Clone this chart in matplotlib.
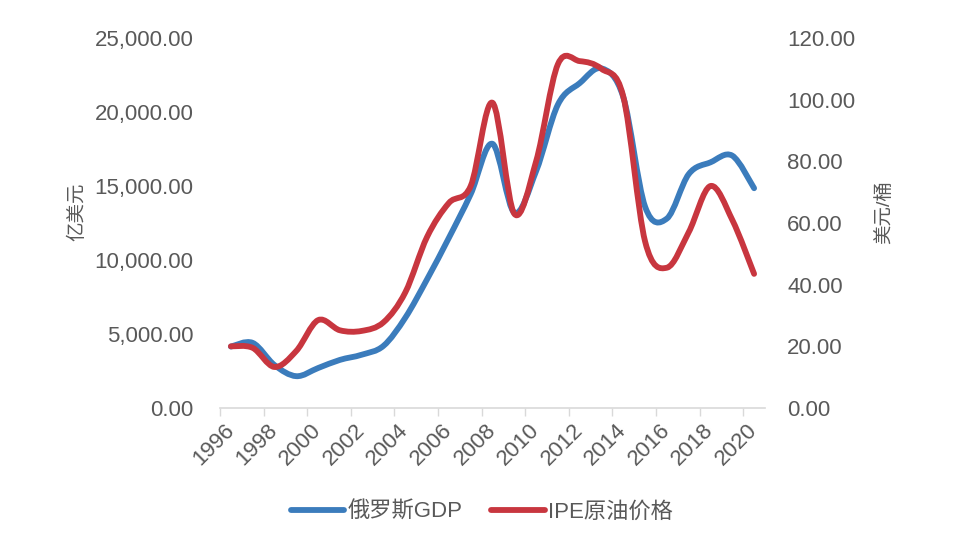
import matplotlib
matplotlib.use('Agg')
import matplotlib.pyplot as plt
import numpy as np
from matplotlib.path import Path
from matplotlib.patches import PathPatch
from matplotlib.lines import Line2D
from matplotlib.ticker import FuncFormatter, FixedLocator

plt.rcParams['font.family'] = ['Liberation Sans', 'Noto Sans CJK SC']

years = list(range(1996, 2021))
gdp = [4150, 4400, 2900, 2150, 2700, 3250, 3600, 4200, 6100, 8700, 11500, 14450, 17850,
       13200, 16000, 20500, 21950, 22950, 21000, 13600, 12800, 15800, 16600, 17050, 14850]
oil = [20.0, 19.5, 13.3, 18.5, 28.5, 25.2, 25.0, 27.8, 37.5, 55.5, 66.5, 72.0, 99.0,
       63.0, 80.0, 111.5, 112.5, 110.0, 101.0, 54.0, 45.5, 57.0, 72.0, 61.0, 43.5]
tick_years = list(range(1996, 2021, 2))
names = ['俄罗斯GDP', 'IPE原油价格']

blue = '#3b7cbc'
red = '#c8363f'
grey = '#595959'


def smooth_path(x, y):
    # Excel style smoothed line: cubic bezier through every point
    x = np.asarray(x, float)
    y = np.asarray(y, float)
    n = len(x)
    verts = [(x[0], y[0])]
    codes = [Path.MOVETO]
    for i in range(n - 1):
        p0 = np.array([x[max(i - 1, 0)], y[max(i - 1, 0)]])
        p1 = np.array([x[i], y[i]])
        p2 = np.array([x[i + 1], y[i + 1]])
        p3 = np.array([x[min(i + 2, n - 1)], y[min(i + 2, n - 1)]])
        c1 = p1 + (p2 - p0) / 6.0
        c2 = p2 - (p3 - p1) / 6.0
        verts += [tuple(c1), tuple(c2), tuple(p2)]
        codes += [Path.CURVE4] * 3
    return Path(verts, codes)


fig = plt.figure(figsize=(9.6, 5.45), dpi=100)
ax = fig.add_axes([220 / 960, 1 - 408 / 545, 545 / 960, 370 / 545])
ax2 = ax.twinx()

ax.add_patch(PathPatch(smooth_path(years, gdp), facecolor='none', edgecolor=blue,
                       linewidth=4.2, capstyle='round', joinstyle='round', zorder=3))
ax2.add_patch(PathPatch(smooth_path(years, oil), facecolor='none', edgecolor=red,
                        linewidth=4.2, capstyle='round', joinstyle='round', zorder=3))

ax.set_xlim(1995.5, 2020.5)
ax.set_ylim(0, 25000)
ax2.set_ylim(0, 120)

ax.set_yticks(np.arange(0, 25001, 5000))
ax.yaxis.set_major_formatter(FuncFormatter(lambda v, p: '{:,.2f}'.format(v)))
ax2.set_yticks(np.arange(0, 121, 20))
ax2.yaxis.set_major_formatter(FuncFormatter(lambda v, p: '{:.2f}'.format(v)))

# tick marks between categories, labels on every other year
ax.xaxis.set_major_locator(FixedLocator(np.arange(1995.5, 2020, 2)))
ax.xaxis.set_major_formatter(FuncFormatter(lambda v, p: ''))
ax.xaxis.set_minor_locator(FixedLocator(tick_years))
ax.set_xticklabels([str(y) for y in tick_years], minor=True, rotation=45,
                   ha='right', va='center', rotation_mode='anchor')
ax.tick_params(axis='x', which='major', length=6, width=1, color='#d9d9d9', direction='out')
ax.tick_params(axis='x', which='minor', length=0, pad=14, labelsize=16, labelcolor=grey)
ax.tick_params(axis='y', length=0, pad=19, labelsize=16, labelcolor=grey)
ax2.tick_params(axis='y', length=0, pad=16, labelsize=16, labelcolor=grey)

for a in (ax, ax2):
    for s in ('left', 'right', 'top'):
        a.spines[s].set_visible(False)
    a.spines['bottom'].set_color('#d9d9d9')
    a.spines['bottom'].set_linewidth(1.2)
ax2.spines['bottom'].set_visible(False)

ax.set_ylabel('亿美元', fontsize=14, color=grey, fontweight='light')
ax.yaxis.set_label_coords(-0.245, 0.53)
ax2.set_ylabel('美元/桶', fontsize=14, color=grey, fontweight='light', rotation=90)
ax2.yaxis.set_label_coords(1.202, 0.53)

handles = [Line2D([], [], color=blue, linewidth=4.2, solid_capstyle='round'),
           Line2D([], [], color=red, linewidth=4.2, solid_capstyle='round')]
leg = fig.legend(handles, names, loc='center', bbox_to_anchor=(0.502, 1 - 512 / 545),
                 ncol=2, frameon=False, fontsize=16, handlelength=2.4,
                 handletextpad=0.15, columnspacing=1.3)
for t in leg.get_texts():
    t.set_color(grey)

fig.savefig('out.png', dpi=100)
